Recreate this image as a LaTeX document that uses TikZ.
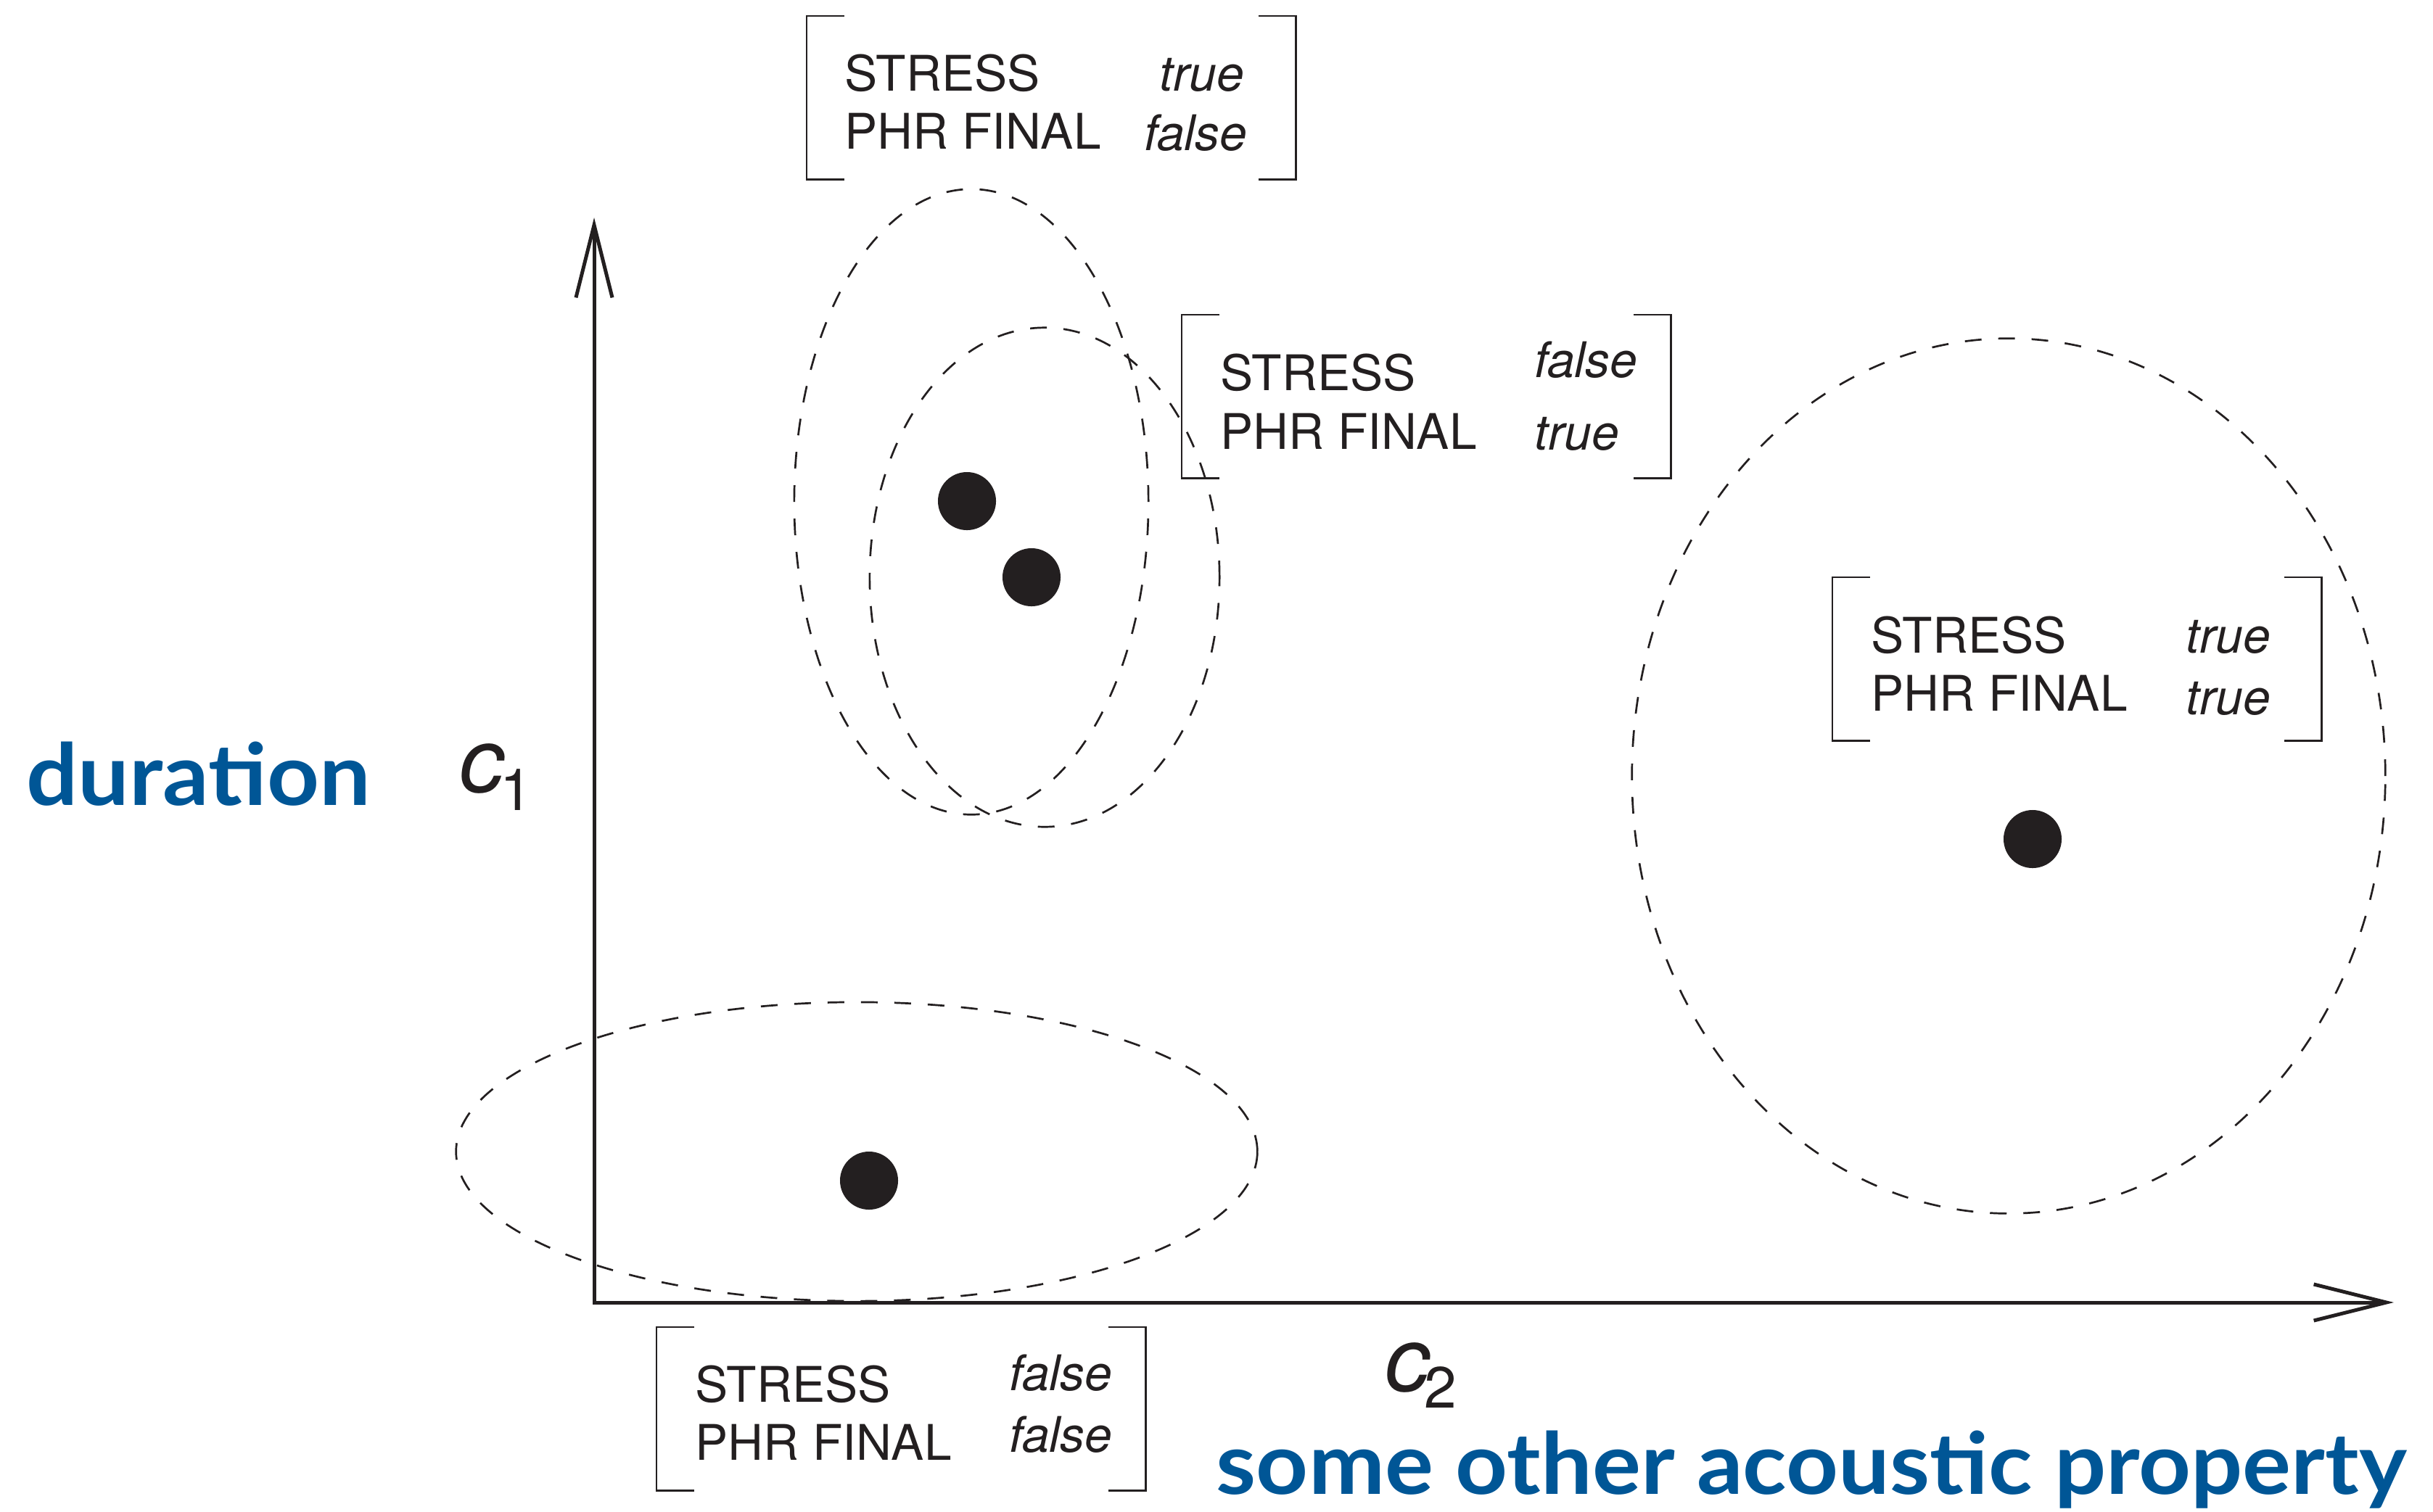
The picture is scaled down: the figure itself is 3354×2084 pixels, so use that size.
\documentclass[tikz,border=0pt]{standalone}
\usepackage{fontspec}
\setmainfont{TeX Gyre Heros}
\newfontfamily\axisfont{Lato}[FakeStretch=1.065]
\usetikzlibrary{arrows.meta}
\definecolor{ink}{HTML}{231F20}
\definecolor{axisblue}{HTML}{005696}
\begin{document}
\begin{tikzpicture}[x=0.01cm,y=-0.01cm,
  axis/.style={draw=ink,line width=0.05cm,line join=miter,
    {Straight Barb[length=1cm,width=0.5cm]}-{Straight Barb[length=1cm,width=0.5cm]}},
  cluster/.style={draw=ink,line width=0.027cm,dash pattern=on 0.23cm off 0.23cm},
  dot/.style={circle,fill=ink,minimum size=0.8cm,inner sep=0pt},
  fsframe/.style={rectangle,minimum width=6.73cm,minimum height=2.24cm,inner sep=0pt,anchor=north west},
  bracket/.style={draw=ink,line width=0.027cm},
  feat/.style={anchor=base west,inner sep=0pt,text=ink,font=\fontsize{19.25pt}{22.8pt}\selectfont},
  val/.style={feat,font=\fontsize{19.25pt}{22.8pt}\selectfont\itshape},
  var/.style={anchor=base west,inner sep=0pt,text=ink,font=\fontsize{35.3pt}{40pt}\selectfont},
  axlabel/.style={anchor=base west,inner sep=0pt,text=axisblue,font=\axisfont\bfseries\fontsize{33.5pt}{40pt}\selectfont}
]
\useasboundingbox (0,0) rectangle (3354,2084);

% clusters
\draw[cluster] (1339,692) ellipse [x radius=2.44cm, y radius=4.31cm];
\draw[cluster] (1440,796) ellipse [x radius=2.41cm, y radius=3.44cm];
\draw[cluster] (2769,1070) ellipse [x radius=5.19cm, y radius=6.03cm];
\draw[cluster] (1181,1588) ellipse [x radius=5.52cm, y radius=2.06cm];

% axes
\coordinate (ytip) at (819,300);
\coordinate (origin) at (819,1796);
\coordinate (xtip) at (3300,1796);
\draw[axis] (ytip) -- (origin) -- (xtip);

% cluster centres
\node[dot] (p1) at (1333,691) {};
\node[dot] (p2) at (1422,796) {};
\node[dot] (p3) at (1198,1628) {};
\node[dot] (p4) at (2802,1157) {};

% feature structures
\foreach \n/\x/\y in {fs1/1112/22, fs2/1629/434, fs3/2526/796, fs4/905/1830}{
  \node[fsframe] (\n) at (\x,\y) {};
  \draw[bracket] ([xshift=0.52cm]\n.north west) -- (\n.north west) -- (\n.south west) -- ([xshift=0.52cm]\n.south west);
  \draw[bracket] ([xshift=-0.52cm]\n.north east) -- (\n.north east) -- (\n.south east) -- ([xshift=-0.52cm]\n.south east);
}

\node[feat] (fs1a) at (1164,125) {STRESS};
\node[feat] (fs1b) at (1164,205) {PHR FINAL};
\node[val]  (fs1c) at (1598,125) {true};
\node[val]  (fs1d) at (1577,207) {false};

\node[feat] (fs2a) at (1682,538) {STRESS};
\node[feat] (fs2b) at (1682,619) {PHR FINAL};
\node[val]  (fs2c) at (2115,520) {false};
\node[val]  (fs2d) at (2115,620) {true};

\node[feat] (fs3a) at (2579,900) {STRESS};
\node[feat] (fs3b) at (2579,980) {PHR FINAL};
\node[val]  (fs3c) at (3013,900) {true};
\node[val]  (fs3d) at (3013,985) {true};

\node[feat] (fs4a) at (958,1933) {STRESS};
\node[feat] (fs4b) at (958,2013) {PHR FINAL};
\node[val]  (fs4c) at (1391,1917) {false};
\node[val]  (fs4d) at (1391,2002) {false};

% axis variables
\node[var] (c1) at (633,1092) {\itshape c\kern-0.06cm\raisebox{-0.25cm}{\fontsize{22.8pt}{22.8pt}\selectfont\upshape 1}};
\node[var] (c2) at (1909,1918) {\itshape c\kern-0.08cm\raisebox{-0.23cm}{\fontsize{22.8pt}{22.8pt}\selectfont\upshape 2}};

% axis names
\node[axlabel] (ylab) at (36,1110) {duration};
\node[axlabel] (xlab) at (1676,2060) {some other acoustic property};
\end{tikzpicture}
\end{document}
